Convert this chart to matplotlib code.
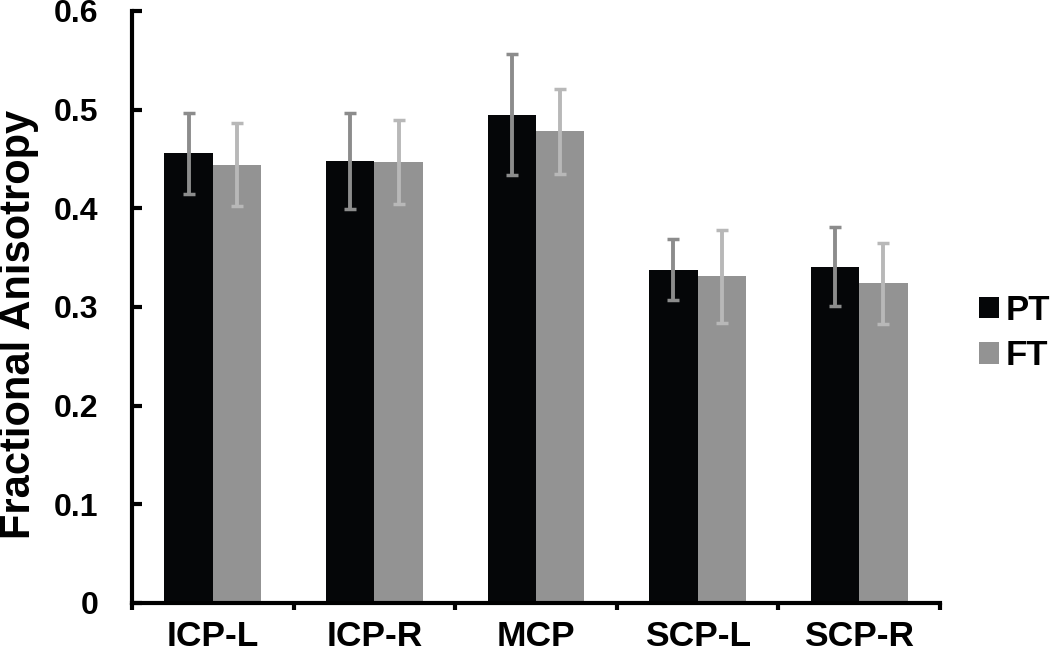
import matplotlib
matplotlib.use("Agg")
import matplotlib.pyplot as plt
import numpy as np
from matplotlib.patches import Patch

categories = ["ICP-L", "ICP-R", "MCP", "SCP-L", "SCP-R"]
pt_values = [0.456, 0.448, 0.495, 0.338, 0.341]
pt_errors = [0.041, 0.049, 0.061, 0.031, 0.040]
ft_values = [0.444, 0.447, 0.478, 0.331, 0.324]
ft_errors = [0.042, 0.043, 0.043, 0.047, 0.041]
yticks = [0, 0.1, 0.2, 0.3, 0.4, 0.5, 0.6]
ytick_labels = ["0", "0.1", "0.2", "0.3", "0.4", "0.5", "0.6"]

plt.rcParams['font.family'] = ['Liberation Sans', 'DejaVu Sans']
plt.rcParams['font.weight'] = 'bold'

fig = plt.figure(figsize=(10.5, 6.59), dpi=100)
ax = fig.add_axes([132/1050, 1-603/659, (940-132)/1050, (603-11)/659])

x = np.arange(len(categories)) + 0.5
w = 0.3
ax.bar(x - w/2, pt_values, width=w, color="#050608", zorder=2)
ax.bar(x + w/2, ft_values, width=w, color="#939393", zorder=2)
ax.errorbar(x - w/2, pt_values, yerr=pt_errors, fmt='none', ecolor="#8c8c8c",
            elinewidth=2.8, capsize=4.5, capthick=2.5, zorder=3)
ax.errorbar(x + w/2, ft_values, yerr=ft_errors, fmt='none', ecolor="#b8b8b8",
            elinewidth=2.8, capsize=4.5, capthick=2.5, zorder=3)

ax.set_xlim(0, 5)
ax.set_ylim(0, 0.6)
for s in ['top', 'right']:
    ax.spines[s].set_visible(False)
for s in ['left', 'bottom']:
    ax.spines[s].set_linewidth(3)
    ax.spines[s].set_color('black')

ax.set_yticks(yticks)
ax.set_yticklabels(ytick_labels, fontsize=23, fontweight='bold')
ax.tick_params(axis='y', direction='in', length=7, width=3, pad=24)

ax.set_xticks(np.arange(0, 6))
ax.set_xticklabels([])
ax.tick_params(axis='x', which='major', direction='out', length=5, width=3)
ax.set_xticks(x, minor=True)
ax.set_xticklabels(categories, minor=True, fontsize=25.5, fontweight='bold')
ax.tick_params(axis='x', which='minor', length=0, pad=12)

fig.text(19/1050, 1-324/659, "Fractional Anisotropy", rotation=90, ha='center', va='center',
         fontsize=30, fontweight='bold')

handles = [Patch(facecolor="#050608", label="PT"), Patch(facecolor="#939393", label="FT")]
fig.legend(handles=handles, loc='center left', bbox_to_anchor=(979/1050, 1-333/659),
           frameon=False, handlelength=0.58, handleheight=0.58,
           handletextpad=0.2, labelspacing=0.35, borderaxespad=0, borderpad=0,
           prop={'weight': 'bold', 'size': 25})

fig.savefig("out.png", dpi=100)
